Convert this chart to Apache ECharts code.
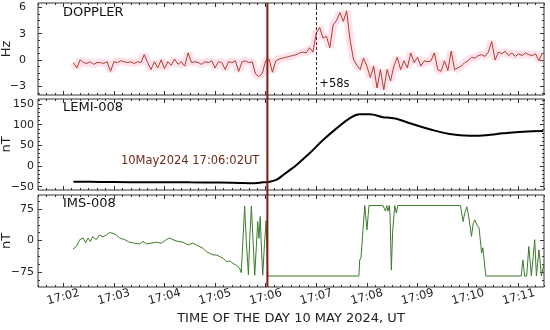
<!DOCTYPE html>
<html>
<head>
<meta charset="utf-8">
<script src="https://cdn.jsdelivr.net/npm/echarts@6/dist/echarts.min.js"></script>
<style>
  html, body { margin: 0; padding: 0; background: #fff; }
  #chart { width: 550px; height: 330px; }
</style>
</head>
<body>
<div id="chart"></div>
<script>
// times are seconds after 17:00:00 UT, 10 May 2024
const tMin = 90;
const tMax = 690;
const majorTimes = [120, 180, 240, 300, 360, 420, 480, 540, 600, 660];
const eventTime = 362;   // 17:06:02
const dopplerMark = 420; // +58s

// DOPPLER, Hz (one value every 4 s from dopStart)
const dopStart = 132;
const dopStep = 4;
const dopVals = [
  -0.3, -0.9, 0.0, -0.3, -0.4, -0.2, -0.5, -0.3, -0.3, -0.4,
  -0.2, -1.3, -0.2, -0.3, -0.1, -0.2, -0.3, -0.2, -0.4, -0.2,
  -0.3, 0.6, -0.3, -1.1, -0.2, -0.9, 0.0, -1.0, -0.2, -0.6,
  0.1, -0.5, -0.2, -0.7, 0.8, -0.3, -0.2, -0.3, -0.5, -0.2,
  -0.3, -0.1, -0.9, -0.2, -0.3, -1.1, -0.2, -0.3, -0.1, -1.3,
  -0.2, -0.1, -0.3, -0.2, -1.6, -1.9, -1.5, -0.1, 0.1, -1.4,
  -0.1, 0.1, 0.2, 0.3, 0.4, 0.5, 0.6, 0.8, 0.9, 0.8,
  1.4, 0.9, 3.1, 3.7, 2.5, 2.7, 1.4, 4.0, 4.5, 5.4,
  4.4, 5.6, 2.3, 0.1, -0.6, -1.1, 0.2, -0.7, -2.0, -0.7,
  -3.2, -1.1, -3.4, -1.1, -2.4, -0.7, 0.3, -1.1, -0.1, -0.9,
  0.8, -0.3, 0.3, -0.7, -0.1, -0.2, -0.1, 0.8, -1.1, -1.3,
  -0.1, -1.2, 1.0, -1.1, -0.9, -0.7, -0.3, -0.1, 0.3, 0.2,
  0.5, 0.6, 0.4, 0.9, 2.1, 0.0, 0.9, 0.7, 1.0, 0.5,
  0.8, 0.4, 0.7, 0.5, 0.8, 0.6, 0.5, 0.7, -0.1, 0.8
];

// LEMI-008, nT
const lemiTimes = [132, 163, 199, 234, 270, 305.5, 329, 341, 350.5, 357.5, 364.5, 373, 380.5, 388.5,
  396.5, 412, 428, 444, 459.5, 471.5, 483.5, 499, 507, 517, 531, 554.5, 578, 602, 621.5, 641.5, 665, 689];
const lemiVals = [-38, -38.5, -39, -39, -39.5, -40, -41, -41.5, -41, -39.5, -38, -33, -22, -10,
  2.5, 30.6, 62.8, 91, 115, 125, 125, 118, 116.5, 113, 103.3, 88.8, 77.4, 73.3, 74.6, 79, 83, 84.6];

// IMS-008, nT
const imsTimes = [131.5, 135.5, 139.5, 143.5, 146.5, 149.5, 152, 155, 159, 163, 167, 171, 175, 179, 183, 187,
  193, 198.5, 204.5, 210.5, 214.5, 218.5, 224.5, 230.5, 236.5, 242.5, 246, 250, 256, 262, 268, 274,
  279.5, 285.5, 289.5, 293.5, 297.5, 301.5, 305.5, 309.5, 313.5, 317.5, 321, 325, 329, 331,
  333, 335, 337, 339.5, 341, 343, 345, 347, 349, 350.5, 352, 353.5, 355, 356.5, 358.5, 360.5, 361.5, 362.5,
  470.5, 471.5, 473, 477.5, 478.5, 480, 481.5, 482.5, 499, 502, 503.5, 505, 506.5, 507.5, 509, 510.5,
  513, 515, 516.5, 591, 594, 596, 598.5, 600.5, 604, 606, 608, 610.5, 613, 616, 617.5, 621,
  663, 665, 667, 669.5, 672, 675, 676.5, 679, 681, 682.5, 684, 687, 688.5, 690];
const imsVals = [-20, -14, 2, 6, -5, 6, -2, 9.5, 2, 13, 9, 13, 19, 17, 13, 6,
  2, -4, -6, -8, -2, -8, -6, -4, -6, 3, 6, 2, -2, -4, -10, -6,
  -12, -18, -26, -30, -34, -34, -38, -42, -50, -48, -54, -58, -65, -76,
  0, 82, 0, -81, 0, 82, 0, -82, -10, 45, 5, 57, -20, -82, -10, 47, -20, -84,
  -84, -46, -40, 83, 60, 25, 60, 83, 83, 70, 83, 70, 83, 60, -70, 20,
  83, 65, 83, 83, 45, 65, 80, 60, 10, 40, 49, 37, 30, -29, -17, -84,
  -84, -46, -84, -84, -14, -84, -84, 2, -84, -84, -22, -84, -84, -55];

// y ticks
const dopTicks = [-3, 0, 3, 6];
const lemiTicks = [-50, 0, 50, 100, 150];
const imsTicks = [-75, 0, 75];

const range = (a, b, s) => { const r = []; for (let v = a; v <= b + 1e-9; v += s) r.push(+v.toFixed(3)); return r; };

const panels = [
  { top: 3, height: 92, min: -4, max: 6.5, ticks: dopTicks, minor: range(-3.75, 6, 0.75), name: 'Hz', margin: 12, title: 'DOPPLER' },
  { top: 99, height: 91, min: -58, max: 162, ticks: lemiTicks, minor: range(-50, 160, 10), name: 'nT', margin: 4, title: 'LEMI-008' },
  { top: 195, height: 92, min: -110, max: 108, ticks: imsTicks, minor: range(-93.75, 93.75, 18.75), name: 'nT', margin: 4, title: 'IMS-008' }
];
const minorTimes = range(tMin, tMax, 10);

const font = 'DejaVu Sans';
const tickColor = '#333';

const fmtNum = v => (v < 0 ? '\u2212' + (-v) : String(v));
const fmtTime = v => '17:' + String(Math.round(v / 60)).padStart(2, '0');

function xAxisFor(gi, pos, ticks, len, labels) {
  return {
    type: 'value', gridIndex: gi, position: pos, min: tMin, max: tMax,
    axisLine: { show: false, onZero: false },
    splitLine: { show: false },
    axisTick: { show: true, inside: true, length: len, customValues: ticks, lineStyle: { color: tickColor, width: 1 } },
    axisLabel: {
      show: labels, customValues: majorTimes, formatter: fmtTime,
      rotate: 15, align: 'center', verticalAlign: 'middle', margin: 10,
      color: '#222', fontSize: 11.5, fontFamily: font
    },
    name: labels ? 'TIME OF THE DAY 10 MAY 2024, UT' : '',
    nameLocation: 'middle', nameGap: 25,
    nameTextStyle: { color: '#222', fontSize: 13, fontFamily: font }
  };
}

function yAxisFor(gi, pos, p, ticks, len, labels) {
  return {
    type: 'value', gridIndex: gi, position: pos, min: p.min, max: p.max,
    axisLine: { show: false, onZero: false },
    splitLine: { show: false },
    axisTick: { show: true, inside: true, length: len, customValues: ticks, lineStyle: { color: tickColor, width: 1 } },
    axisLabel: {
      show: labels, customValues: p.ticks, formatter: fmtNum, margin: p.margin,
      color: '#222', fontSize: 11, fontFamily: font
    }
  };
}

const grids = [];
const xAxes = [];
const yAxes = [];
panels.forEach((p, i) => {
  grids.push({
    left: 38, right: 6, top: p.top, height: p.height, show: true, borderColor: '#333', borderWidth: 1,
    containLabel: false, outerBoundsMode: 'none'
  });
  xAxes.push(xAxisFor(i, 'bottom', majorTimes, 4, i === 2));
  xAxes.push(xAxisFor(i, 'bottom', minorTimes, 2, false));
  xAxes.push(xAxisFor(i, 'top', majorTimes, 4, false));
  xAxes.push(xAxisFor(i, 'top', minorTimes, 2, false));
  yAxes.push(yAxisFor(i, 'left', p, p.ticks, 4, true));
  yAxes.push(yAxisFor(i, 'left', p, p.minor, 2, false));
  yAxes.push(yAxisFor(i, 'right', p, p.ticks, 4, false));
  yAxes.push(yAxisFor(i, 'right', p, p.minor, 2, false));
});

const dopData = dopVals.map((v, k) => [dopStart + k * dopStep, v]);
const lemiData = lemiTimes.map((t, k) => [t, lemiVals[k]]);
const imsData = imsTimes.map((t, k) => [t, imsVals[k]]);

const chart = echarts.init(document.getElementById('chart'), null, { renderer: 'canvas' });
chart.setOption({
  animation: false,
  grid: grids,
  xAxis: xAxes,
  yAxis: yAxes,
  series: [
    {
      type: 'line', xAxisIndex: 0, yAxisIndex: 0, data: dopData, showSymbol: false,
      lineStyle: { color: 'rgba(255,160,190,0.3)', width: 8, join: 'bevel' }, z: 1, silent: true
    },
    {
      type: 'line', xAxisIndex: 0, yAxisIndex: 0, data: dopData, showSymbol: false,
      lineStyle: { color: '#a8402a', width: 1 }, z: 2,
      markLine: {
        symbol: 'none', silent: true, animation: false,
        label: { show: false },
        lineStyle: { color: '#333', width: 1, type: [3, 2] },
        data: [{ xAxis: dopplerMark }]
      }
    },
    {
      type: 'line', xAxisIndex: 4, yAxisIndex: 4, data: lemiData, showSymbol: false, smooth: 0.4,
      lineStyle: { color: '#000', width: 2 }
    },
    {
      type: 'line', xAxisIndex: 8, yAxisIndex: 8, data: imsData, showSymbol: false,
      lineStyle: { color: '#3b7a2c', width: 1 }
    }
  ]
});

const xEvent = chart.convertToPixel({ xAxisIndex: 0 }, eventTime);
const yTop = chart.convertToPixel({ yAxisIndex: 0 }, panels[0].max);
const yBot = chart.convertToPixel({ yAxisIndex: 8 }, panels[2].min);
const xMark = chart.convertToPixel({ xAxisIndex: 0 }, dopplerMark);

const titleStyle = (text, x, y) => ({
  type: 'text', x: x, y: y, z: 100,
  style: { text: text, fill: '#111', font: '13px "DejaVu Sans"', verticalAlign: 'middle', textVerticalAlign: 'middle' }
});

// rotated unit labels, centred on each panel
const unitLabels = panels.map((p, i) => {
  const yMid = (chart.convertToPixel({ yAxisIndex: i * 4 }, p.min) + chart.convertToPixel({ yAxisIndex: i * 4 }, p.max)) / 2;
  return {
    type: 'text', x: 7, y: yMid, rotation: Math.PI / 2, z: 100,
    style: {
      text: p.name, fill: '#222', font: '13px "DejaVu Sans"',
      align: 'center', textAlign: 'center', verticalAlign: 'middle', textVerticalAlign: 'middle'
    }
  };
});

chart.setOption({
  graphic: [
    {
      type: 'line', z: 50,
      shape: { x1: xEvent, y1: yTop, x2: xEvent, y2: yBot },
      style: { stroke: '#7a1e16', lineWidth: 2 }
    },
    titleStyle('DOPPLER', 63, 13),
    titleStyle('LEMI-008', 63, 108),
    titleStyle('IMS-008', 63, 204),
    {
      type: 'text', z: 100,
      x: xMark + 3, y: chart.convertToPixel({ yAxisIndex: 0 }, -2.8),
      style: { text: '+58s', fill: '#111', font: '11.5px "DejaVu Sans"', verticalAlign: 'middle', textVerticalAlign: 'middle' }
    },
    {
      type: 'text', z: 100,
      x: xEvent - 8, y: chart.convertToPixel({ yAxisIndex: 4 }, 12.8),
      style: {
        text: '10May2024 17:06:02UT', fill: '#6e2a1c', font: '11.5px "DejaVu Sans"',
        align: 'right', textAlign: 'right', verticalAlign: 'middle', textVerticalAlign: 'middle'
      }
    }
  ].concat(unitLabels)
});
</script>
</body>
</html>
